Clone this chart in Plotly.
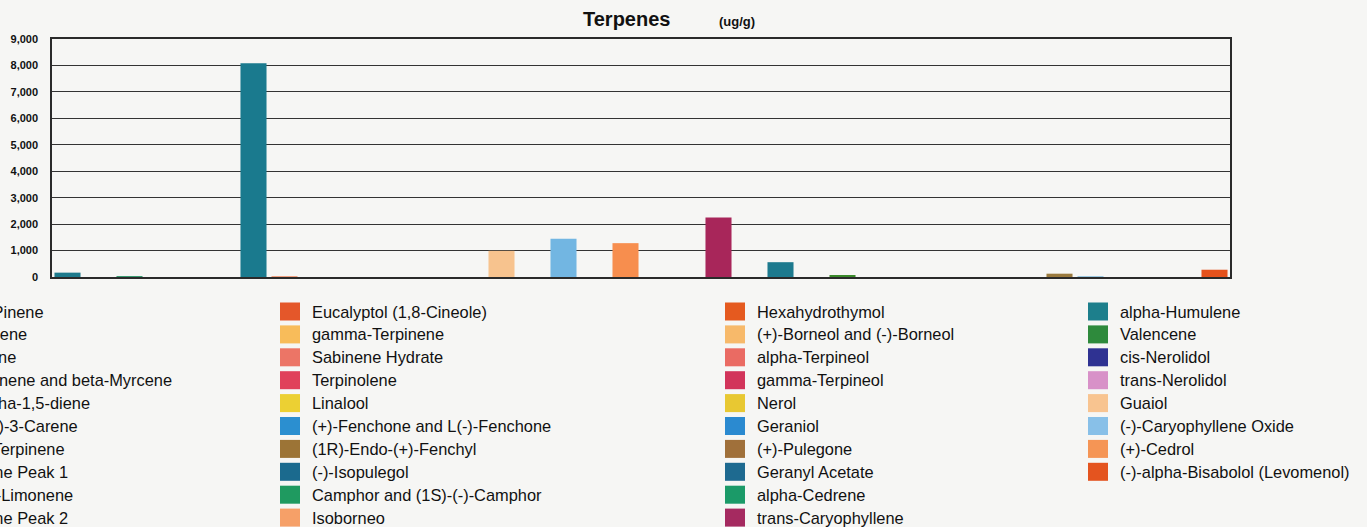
import plotly.graph_objects as go

# ---------------- data ----------------
bar_slots = list(range(1, 39))
bar_values = [165, 0, 30, 0, 0, 0, 8080, 20, 0, 0,
              0, 0, 0, 0, 990, 0, 1450, 0, 1280, 0,
              0, 2250, 0, 560, 0, 70, 0, 0, 0, 0,
              0, 0, 125, 35, 0, 0, 0, 275]
bar_colors = ["#1d7a8c", "#888888", "#3a9a70", "#888888", "#888888", "#888888", "#1a7a8e", "#f0a080", "#888888", "#888888",
              "#888888", "#888888", "#888888", "#888888", "#f7c38e", "#888888", "#72b6e2", "#888888", "#f78e4e", "#888888",
              "#888888", "#a8265a", "#888888", "#1d7a8e", "#888888", "#3a8a2a", "#888888", "#888888", "#888888", "#888888",
              "#888888", "#888888", "#9a7a3e", "#9cc8e0", "#888888", "#888888", "#888888", "#e5521c"]

legend_names = [
    "alpha-Pinene", "Camphene", "Sabinene", "beta-Pinene and beta-Myrcene", "p-Mentha-1,5-diene",
    "(1S)-(+)-3-Carene", "alpha-Terpinene", "Ocimene Peak 1", "(R)-(+)-Limonene", "Ocimene Peak 2",
    "Eucalyptol (1,8-Cineole)", "gamma-Terpinene", "Sabinene Hydrate", "Terpinolene", "Linalool",
    "(+)-Fenchone and L(-)-Fenchone", "(1R)-Endo-(+)-Fenchyl", "(-)-Isopulegol", "Camphor and (1S)-(-)-Camphor", "Isoborneo",
    "Hexahydrothymol", "(+)-Borneol and (-)-Borneol", "alpha-Terpineol", "gamma-Terpineol", "Nerol",
    "Geraniol", "(+)-Pulegone", "Geranyl Acetate", "alpha-Cedrene", "trans-Caryophyllene",
    "alpha-Humulene", "Valencene", "cis-Nerolidol", "trans-Nerolidol", "Guaiol",
    "(-)-Caryophyllene Oxide", "(+)-Cedrol", "(-)-alpha-Bisabolol (Levomenol)",
]
legend_colors = [
    "#1d7a8c", "#3a9a70", "#2f3292", "#1a7a8e", "#d891c8",
    "#f8c490", "#1a7a8e", "#f0a080", "#88c0e8", "#f59555",
    "#e4572a", "#f8bc5a", "#ec7566", "#e0415a", "#ecd033",
    "#2b8fd0", "#9c7436", "#1b6a8e", "#1f9a60", "#f6a068",
    "#e55a1f", "#f7b96a", "#ea6b63", "#d2345a", "#e8c832",
    "#2b8ad0", "#a0703a", "#1e6a90", "#1b9a68", "#a52a60",
    "#1d7f8c", "#2e8a3c", "#2f3292", "#d891c8", "#f8c490",
    "#88c0e8", "#f59555", "#e4541f",
]
legend_col_starts = [0, 10, 20, 30]

y_ticks = [0, 1000, 2000, 3000, 4000, 5000, 6000, 7000, 8000, 9000]

# ---------------- layout geometry ----------------
W, H = 1367, 527
L, R, T, B = 52, 137, 39, 250
PW = W - L - R
PH = H - T - B
FONT = "Liberation Sans, Arial, Helvetica, sans-serif"
BG = "#f6f6f4"


def px_x(px):
    return (px - L) / PW


def px_y(py):
    return (T + PH - py) / PH


fig = go.Figure()
fig.add_trace(go.Bar(
    x=bar_slots, y=bar_values,
    marker=dict(color=bar_colors, line=dict(width=0)),
    showlegend=False,
))

annotations = [
    dict(text="Terpenes", x=px_x(626), y=px_y(19), xref="paper", yref="paper",
         xanchor="center", yanchor="middle", showarrow=False,
         font=dict(family=FONT, size=20, color="#111", weight="bold")),
    dict(text="(ug/g)", x=px_x(737), y=px_y(21), xref="paper", yref="paper",
         xanchor="center", yanchor="middle", showarrow=False,
         font=dict(family=FONT, size=13, color="#111", weight="bold")),
]
shapes = []

col_text_x = [-52.5, 312, 757, 1120]
row0_y = 311.5
pitch = 22.9
for c, start in enumerate(legend_col_starts):
    end = legend_col_starts[c + 1] if c + 1 < len(legend_col_starts) else len(legend_names)
    for r, i in enumerate(range(start, end)):
        cy = row0_y + r * pitch
        tx = col_text_x[c]
        shapes.append(dict(type="rect", xref="paper", yref="paper",
                           x0=px_x(tx - 32), x1=px_x(tx - 12),
                           y0=px_y(cy + 9), y1=px_y(cy - 9),
                           fillcolor=legend_colors[i], line=dict(width=0)))
        annotations.append(dict(text=legend_names[i], x=px_x(tx - 2), y=px_y(cy),
                                xref="paper", yref="paper", xanchor="left", yanchor="middle",
                                showarrow=False,
                                font=dict(family=FONT, size=16.4, color="#111")))

fig.update_layout(
    width=W, height=H,
    margin=dict(l=L, r=R, t=T, b=B, autoexpand=False),
    paper_bgcolor=BG, plot_bgcolor=BG,
    bargap=0.16,
    annotations=annotations,
    shapes=shapes,
    font=dict(family=FONT, color="#111"),
)
fig.update_xaxes(
    type="linear", range=[0.5, 38.5], showticklabels=False, ticks="",
    showgrid=False, zeroline=False,
    showline=True, linecolor="#2a2a2a", linewidth=1.5, mirror=True,
)
fig.update_yaxes(
    range=[0, 9000], tickvals=y_ticks, tickformat=",d",
    tickfont=dict(family=FONT, size=11, color="#111", weight="bold"),
    ticks="", ticklabelstandoff=10,
    showgrid=True, gridcolor="#333333", gridwidth=1.3,
    zeroline=False,
    showline=True, linecolor="#2a2a2a", linewidth=1.5, mirror=True,
)

fig.write_html(
    "out.html",
    config={"displayModeBar": False},
    post_script="document.body.style.margin='0';document.body.style.overflow='hidden';"
                "document.body.style.background='" + BG + "';",
)
